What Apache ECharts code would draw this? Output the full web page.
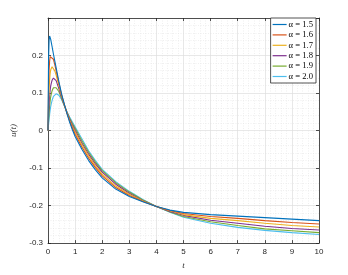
<!DOCTYPE html>
<html><head><meta charset="utf-8">
<script src="https://cdn.jsdelivr.net/npm/echarts@6/dist/echarts.min.js"></script>
<style>html,body{margin:0;padding:0;background:#fff}#c{width:348px;height:275px}</style>
</head><body><div id="c"></div>
<script>
const tVals = [0,0.02,0.04,0.06,0.08,0.1,0.12,0.15,0.2,0.25,0.3,0.4,0.5,0.6,0.7,0.8,0.9,1.0,1.25,1.5,1.75,2,2.5,3,3.5,4,4.5,5,6,7,8,9,10];
const alpha15 = [0,0.19,0.24,0.252,0.250,0.243,0.238,0.224,0.204,0.186,0.168,0.131,0.098,0.071,0.045,0.022,0.002,-0.016,-0.050,-0.080,-0.105,-0.126,-0.156,-0.176,-0.190,-0.2025,-0.212,-0.218,-0.224,-0.228,-0.232,-0.236,-0.240];
const alpha16 = [0,0.11,0.16,0.185,0.197,0.202,0.203,0.201,0.190,0.176,0.160,0.127,0.096,0.070,0.046,0.025,0.007,-0.010,-0.044,-0.074,-0.099,-0.121,-0.152,-0.173,-0.189,-0.2025,-0.213,-0.221,-0.229,-0.234,-0.240,-0.245,-0.249];
const alpha17 = [0,0.07,0.11,0.135,0.152,0.162,0.167,0.170,0.167,0.159,0.148,0.120,0.093,0.069,0.047,0.027,0.011,-0.004,-0.038,-0.068,-0.094,-0.116,-0.148,-0.170,-0.188,-0.2025,-0.214,-0.224,-0.234,-0.240,-0.247,-0.253,-0.257];
const alpha18 = [0,0.04,0.07,0.092,0.108,0.119,0.126,0.134,0.140,0.139,0.133,0.112,0.089,0.068,0.048,0.030,0.015,0.001,-0.033,-0.063,-0.089,-0.111,-0.143,-0.167,-0.187,-0.2025,-0.216,-0.226,-0.239,-0.247,-0.255,-0.261,-0.265];
const alpha19 = [0,0.025,0.047,0.065,0.079,0.090,0.097,0.106,0.114,0.116,0.114,0.104,0.086,0.067,0.049,0.033,0.019,0.006,-0.027,-0.058,-0.084,-0.107,-0.139,-0.164,-0.185,-0.2025,-0.217,-0.229,-0.243,-0.253,-0.262,-0.267,-0.272];
const alpha20 = [0,0.015,0.030,0.043,0.054,0.064,0.071,0.080,0.091,0.096,0.098,0.094,0.083,0.066,0.050,0.036,0.023,0.010,-0.022,-0.054,-0.080,-0.1035,-0.136,-0.162,-0.184,-0.2025,-0.218,-0.231,-0.247,-0.258,-0.266,-0.272,-0.277];
const seriesNames = ['α = 1.5','α = 1.6','α = 1.7','α = 1.8','α = 1.9','α = 2.0'];
const seriesData = [alpha15,alpha16,alpha17,alpha18,alpha19,alpha20];
const colors = ['#0072BD','#D95319','#EDB120','#7E2F8E','#77AC30','#4DBEEE'];
const xTicks = [0,1,2,3,4,5,6,7,8,9,10];
const yTicks = [-0.3,-0.2,-0.1,0,0.1,0.2];

const axisCol = '#262626';
const chart = echarts.init(document.getElementById('c'));
const baseAxis = {
  axisLine:{show:true,onZero:false,lineStyle:{color:axisCol,width:0.8}},
  axisTick:{show:true,inside:true,length:3,lineStyle:{color:axisCol,width:0.8}},
};
chart.setOption({
  animation:false,
  color:colors,
  grid:{left:48,right:29,top:18,bottom:25,containLabel:false},
  legend:{
    orient:'vertical', right:32, top:18,
    backgroundColor:'#fff', borderColor:axisCol, borderWidth:0.8,
    padding:[2,3,2,2], itemGap:1.4, itemWidth:14, itemHeight:8,
    icon:'path://M0,0L14,0L14,1.2L0,1.2Z',
    textStyle:{fontFamily:'Liberation Serif',fontSize:8.6,lineHeight:8,color:'#000',padding:[0,0,0,-3]},
    data:seriesNames
  },
  xAxis:[
    Object.assign({type:'value',min:0,max:10,interval:1,position:'bottom',
      name:'t',nameLocation:'middle',nameGap:15,
      nameTextStyle:{fontFamily:'Liberation Serif',fontStyle:'italic',fontSize:9,color:'#333'},
      axisLabel:{fontFamily:'Liberation Sans',fontSize:8,color:axisCol,margin:5,formatter:v=>xTicks.includes(v)?String(v):''},
      splitLine:{show:true,lineStyle:{color:'#dedede',width:0.7}},
      minorTick:{show:false,splitNumber:5},
      minorSplitLine:{show:true,lineStyle:{color:'#e6e6e6',width:0.6,type:[1,1.5]}}
    },baseAxis),
    Object.assign({type:'value',min:0,max:10,interval:1,position:'top',axisLabel:{show:false},splitLine:{show:false}},baseAxis)
  ],
  yAxis:[
    Object.assign({type:'value',min:-0.3,max:0.3,interval:0.1,position:'left',
      name:'u(t)',nameLocation:'middle',nameGap:30,nameRotate:90,
      nameTextStyle:{fontFamily:'Liberation Serif',fontStyle:'italic',fontSize:9,color:'#333'},
      axisLabel:{fontFamily:'Liberation Sans',fontSize:8,color:axisCol,margin:5,
        formatter:v=>{const r=Math.round(v*10)/10; return yTicks.some(y=>Math.abs(y-r)<1e-9)&&Math.abs(v-r)<1e-9 ? (r===0?'0':String(r)) : '';}},
      splitLine:{show:true,lineStyle:{color:'#dedede',width:0.7}},
      minorTick:{show:false,splitNumber:5},
      minorSplitLine:{show:true,lineStyle:{color:'#e6e6e6',width:0.6,type:[1,1.5]}}
    },baseAxis),
    Object.assign({type:'value',min:-0.3,max:0.3,interval:0.1,position:'right',axisLabel:{show:false},splitLine:{show:false}},baseAxis)
  ],
  series:seriesData.map((d,i)=>({
    name:seriesNames[i], type:'line', showSymbol:false, symbol:'none',
    smooth:false,
    lineStyle:{width:1.1,color:colors[i]},
    data:d.map((v,k)=>[tVals[k],v]), z:10-i
  }))
});
</script></body></html>
